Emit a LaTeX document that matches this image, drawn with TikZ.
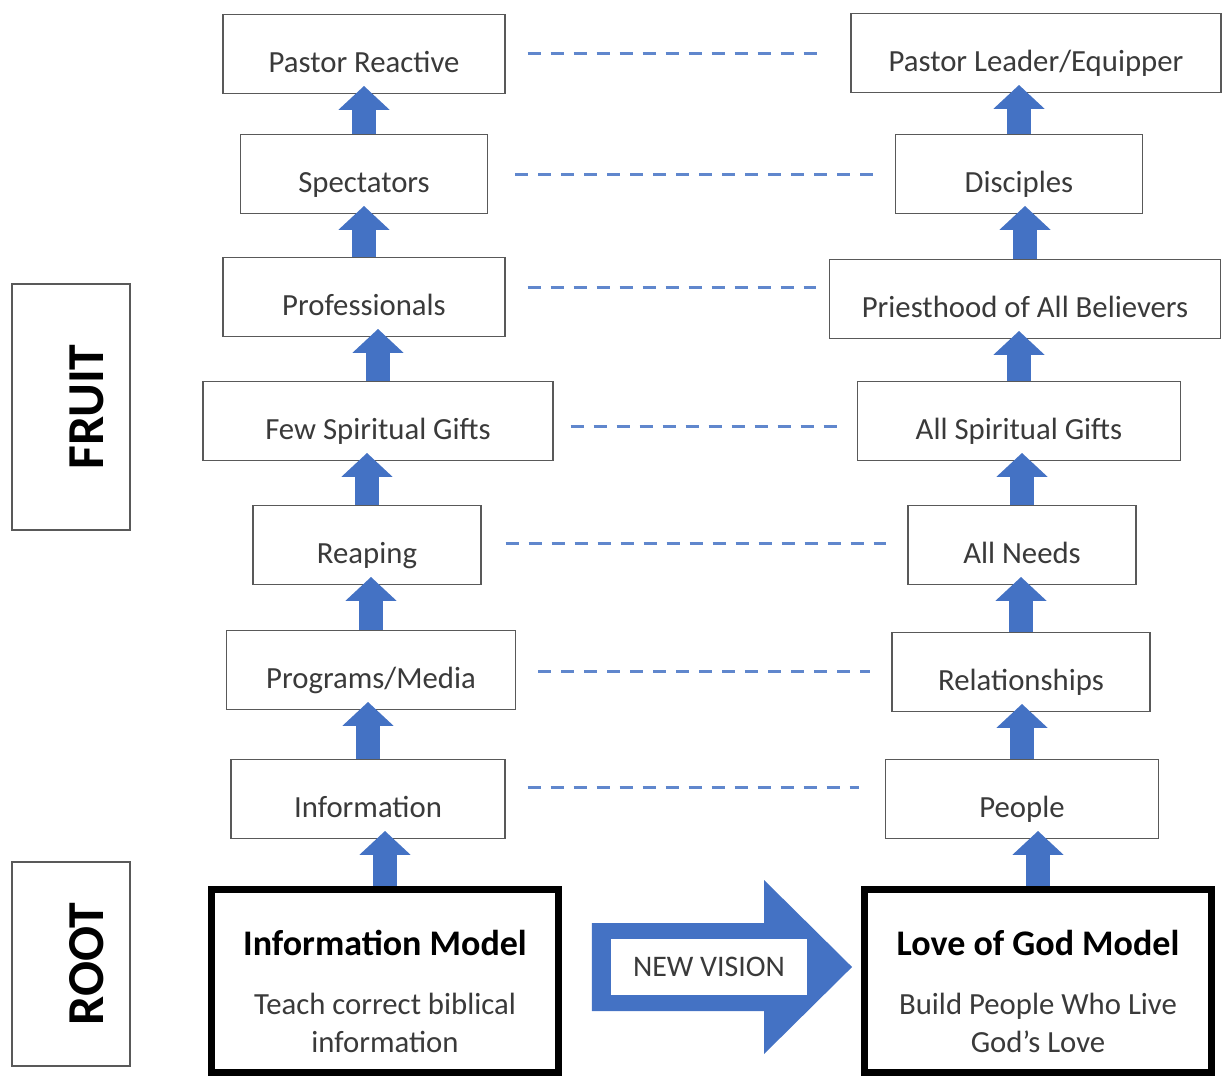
\documentclass[tikz,border=0pt]{standalone}
\usepackage{fontspec}
\setmainfont{Carlito}
\usetikzlibrary{arrows.meta,calc}
\definecolor{vblue}{HTML}{4472C4}
\definecolor{boxgray}{HTML}{595959}
\definecolor{txtgray}{HTML}{3A3A3A}

\begin{document}
\begin{tikzpicture}[x=0.02cm,y=-0.02cm,
bx/.style = {% level boxes
    draw=boxgray, line width=0.8pt, fill=white, text=txtgray,
    font=\fontsize{17.5}{21}\selectfont, minimum height=1.57cm,
    text height=25.6pt, text depth=4pt,
            },
model/.style = {% root models
    draw=black, line width=0.14cm, fill=white, text=txtgray, align=center,
    font=\fontsize{17.5}{21.5}\selectfont, text height=85.5pt, text depth=4pt,
    minimum width=6.94cm, minimum height=3.66cm,
            },
tag/.style = {% side labels
    draw=boxgray, line width=0.8pt, rotate=90, text height=37pt, text depth=0pt,
    font=\bfseries\fontsize{29.5}{34}\selectfont, minimum height=2.36cm,
            },
link/.style = {draw=vblue!85, line width=0.06cm,
    dash pattern=on 0.26cm off 0.2cm},
lift/.style = {draw=vblue, line width=0.48cm,
    -{Triangle[width=1cm,length=0.48cm]}},
                        ]
  \useasboundingbox (0,0) rectangle (1223,1078);

  % side labels
  \node[tag, minimum width=4.92cm] (fruit) at (71,407) {FRUIT};
  \node[tag, minimum width=4.08cm] (root)  at (71,964) {ROOT};

  % information column
  \node[bx, minimum width=5.64cm] (pr)   at (364,54)  {Pastor Reactive};
  \node[bx, minimum width=4.94cm] (sp)   at (364,174) {Spectators};
  \node[bx, minimum width=5.64cm] (pro)  at (364,297) {Professionals};
  \node[bx, minimum width=7.00cm] (few)  at (378,421) {Few Spiritual Gifts};
  \node[bx, minimum width=4.56cm] (rea)  at (367,545) {Reaping};
  \node[bx, minimum width=5.78cm] (prog) at (371,670) {Programs/Media};
  \node[bx, minimum width=5.48cm] (inf)  at (368,799) {Information};
  \node[model] (im) at (385,981)
    {{\color{black}\bfseries\fontsize{20.5}{24}\selectfont Information Model}\\[12.5pt]
     Teach correct biblical\\ information};

  % love of God column
  \node[bx, minimum width=7.40cm] (ple) at (1036,53)  {Pastor Leader/Equipper};
  \node[bx, minimum width=4.94cm] (dis) at (1019,174) {Disciples};
  \node[bx, minimum width=7.82cm] (pab) at (1025,299) {Priesthood of All Believers};
  \node[bx, minimum width=6.46cm] (asg) at (1019,421) {All Spiritual Gifts};
  \node[bx, minimum width=4.56cm] (an)  at (1022,545) {All Needs};
  \node[bx, minimum width=5.16cm] (rel) at (1021,672) {Relationships};
  \node[bx, minimum width=5.46cm] (peo) at (1022,799) {People};
  \node[model] (lgm) at (1038,981)
    {{\color{black}\bfseries\fontsize{20.5}{24}\selectfont Love of God Model}\\[12.5pt]
     Build People Who Live\\ God’s Love};

  % growth arrows
  \foreach \a/\b in {sp/pr, pro/sp, few/pro, rea/few, prog/rea, inf/prog, im/inf,
                     dis/ple, pab/dis, asg/pab, an/asg, rel/an, peo/rel, lgm/peo}
    \draw[lift] (\a.north) -- ($(\a.north |- \b.south)+(0,-8)$);

  % level links
  \foreach \a/\b/\l/\r/\dy in {pr/ple/22/29/0, sp/dis/27/16/0, pro/pab/22/13/-10,
                               few/asg/17/13/5, rea/an/24/21/-2, prog/rel/22/21/1,
                               inf/peo/22/26/-12}
    \draw[link] (\a.east) ++(\l,\dy) coordinate (s) -- ($(s -| \b.west)+(-\r,0)$);

  % new vision
  \coordinate (vs) at ($(im.east)+(30,-14)$);
  \coordinate (vt) at ($(lgm.west)+(-9,-14)$);
  \fill[vblue] ($(vs)+(0,-44)$) -- ($(vt)+(-88,-44)$) -- ($(vt)+(-88,-87)$)
    -- (vt) -- ($(vt)+(-88,87)$) -- ($(vt)+(-88,44)$) -- ($(vs)+(0,44)$) -- cycle;
  \node[fill=white, text=txtgray, font=\fontsize{17}{20}\selectfont,
        minimum width=3.94cm, minimum height=1.12cm] (nv)
    at ($(vs)!0.45!(vt)$) {NEW VISION};

\end{tikzpicture}
\end{document}
